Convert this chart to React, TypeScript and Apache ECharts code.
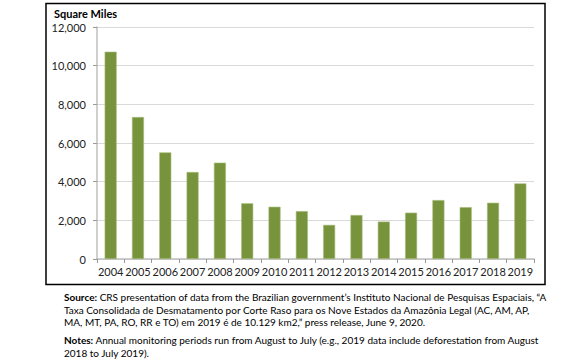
import React, { useEffect, useRef } from "react";
import * as echarts from "echarts";

const years = ["2004","2005","2006","2007","2008","2009","2010","2011","2012","2013","2014","2015","2016","2017","2018","2019"];
const squareMiles = [10723, 7341, 5516, 4498, 4985, 2882, 2703, 2478, 1765, 2275, 1935, 2397, 3048, 2682, 2910, 3911];
const yTicks = { min: 0, max: 12000, interval: 2000 };

const sourceLines = [
  "CRS presentation of data from the Brazilian government\u2019s Instituto Nacional de Pesquisas Espaciais, \u201cA",
  "Taxa Consolidada de Desmatamento por Corte Raso para os Nove Estados da Amaz\u00f4nia Legal (AC, AM, AP,",
  "MA, MT, PA, RO, RR e TO) em 2019 \u00e9 de 10.129 km2,\u201d press release, June 9, 2020.",
];
const notesLines = [
  "Annual monitoring periods run from August to July (e.g., 2019 data include deforestation from August",
  "2018 to July 2019).",
];

export default function App() {
  const ref = useRef<HTMLDivElement>(null);
  useEffect(() => {
    if (!ref.current) return;
    const chart = echarts.init(ref.current, null, { renderer: "svg" });
    const font = "Lato, 'Open Sans', sans-serif";
    const textStyleBase = { fontFamily: font, fontSize: 10, fill: "#000" };
    chart.setOption({
      animation: false,
      textStyle: { fontFamily: font },
      grid: { left: 97, right: 46, top: 27, bottom: 101, containLabel: false },
      xAxis: {
        type: "category",
        data: years,
        axisLine: { show: true, lineStyle: { color: "#BFBFBF", width: 1.5 } },
        axisTick: { show: true, alignWithLabel: false, interval: 0, length: 4, lineStyle: { color: "#999" } },
        axisLabel: { color: "#222", fontSize: 11, fontFamily: font, margin: 7, interval: 0, hideOverlap: false },
      },
      yAxis: {
        type: "value",
        min: yTicks.min,
        max: yTicks.max,
        interval: yTicks.interval,
        axisLine: { show: true, lineStyle: { color: "#BFBFBF", width: 1.5 } },
        axisTick: { show: true, inside: false, length: 4, lineStyle: { color: "#999" } },
        axisLabel: {
          color: "#222",
          fontSize: 11,
          fontFamily: font,
          margin: 11,
          formatter: (v: number) => v.toLocaleString("en-US"),
        },
        splitLine: { show: true, lineStyle: { color: "#D9D9D9", width: 1 } },
      },
      series: [
        {
          type: "bar",
          data: squareMiles,
          barWidth: "44%",
          itemStyle: {
            color: "#77933C",
            borderColor: "#A7BE7A",
            borderWidth: 0.6,
          },
        },
      ],
      graphic: [
        {
          type: "rect",
          shape: { x: 46, y: 3.5, width: 499, height: 281 },
          style: { fill: "none", stroke: "#000", lineWidth: 1.5 },
          silent: true,
        },
        {
          type: "text",
          x: 54,
          y: 8,
          style: { text: "Square Miles", fontFamily: font, fontSize: 11, fontWeight: "bold", fill: "#000" },
        },
        {
          type: "text",
          x: 64,
          y: 291,
          style: {
            text:
              "{b|Source:} " + sourceLines[0] + "\n" + sourceLines[1] + "\n" + sourceLines[2],
            ...textStyleBase,
            lineHeight: 12.5,
            rich: { b: { fontFamily: font, fontSize: 10, fontWeight: "bold", fill: "#000" } },
          },
        },
        {
          type: "text",
          x: 64,
          y: 334,
          style: {
            text: "{b|Notes:} " + notesLines[0] + "\n" + notesLines[1],
            ...textStyleBase,
            lineHeight: 12.5,
            rich: { b: { fontFamily: font, fontSize: 10, fontWeight: "bold", fill: "#000" } },
          },
        },
      ],
    });
    return () => chart.dispose();
  }, []);
  return (
    <div
      ref={ref}
      style={{ position: "absolute", left: 0, top: 0, width: 580, height: 360, background: "#fff" }}
    />
  );
}
